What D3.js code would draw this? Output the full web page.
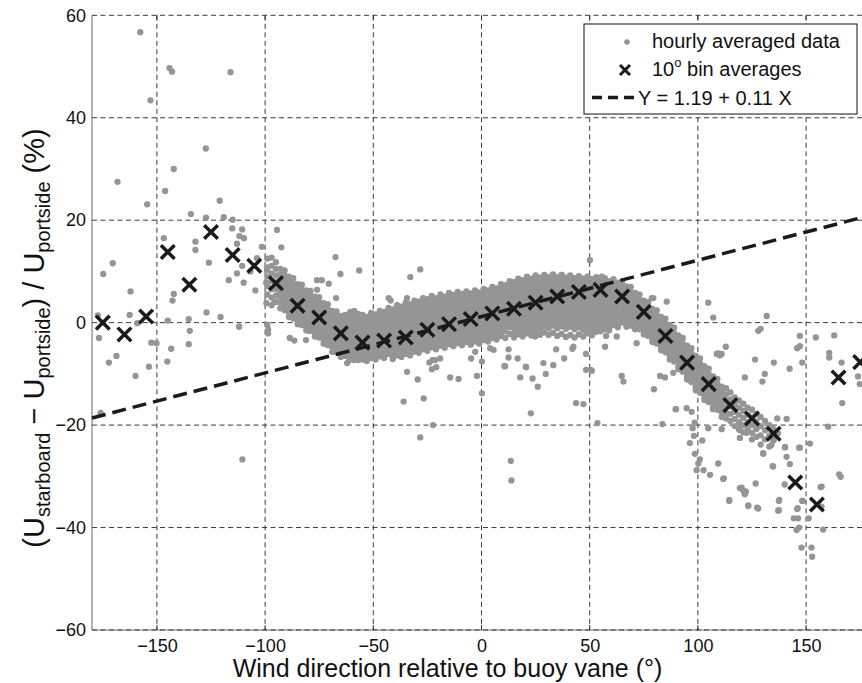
<!DOCTYPE html>
<html><head><meta charset="utf-8">
<script src="https://cdn.jsdelivr.net/npm/d3@7"></script>
<style>
body{margin:0;background:#fff}
svg{display:block}
text{font-family:"Liberation Sans",Arial,Helvetica,sans-serif;fill:#111}
</style></head>
<body><svg id="chart" width="862" height="683"></svg>
<script>
// ---------------- data ----------------
const xTicks = [-150, -100, -50, 0, 50, 100, 150];
const yTicks = [-60, -40, -20, 0, 20, 40, 60];
const fitIntercept = 1.19;
const fitSlope = 0.11;

const binCenters = [-175,-165,-155,-145,-135,-125,-115,-105,-95,-85,-75,-65,-55,-45,-35,-25,-15,-5,5,15,25,35,45,55,65,75,85,95,105,115,125,135,145,155,165,175];
const binAverages = [0.0,-2.3,1.2,13.8,7.4,17.7,13.2,11.1,7.7,3.3,1.0,-2.1,-3.9,-3.5,-2.9,-1.4,-0.3,0.7,1.8,2.7,3.9,5.1,6.0,6.4,5.1,2.1,-2.6,-7.8,-12.0,-16.1,-18.7,-21.7,-31.2,-35.5,-10.7,-7.7];

// dense core of hourly data: [direction, [ratios...]]
const hourlyCore = [
[-99,[12.5,10.8,9.0,7.2,5.5]],
[-97,[12.7,11.1,9.6,8.1,6.5,4.9,3.4]],
[-95,[11.8,10.5,9.2,7.9,6.6,5.3,4.0]],
[-93,[10.5,9.4,8.3,7.2,6.1,5.0,3.9,2.8]],
[-91,[10.2,9.2,8.2,7.2,6.2,5.2,4.2,3.2,2.4]],
[-89,[9.0,8.0,7.0,6.0,5.0,4.0,3.0,2.0,1.1]],
[-87,[8.7,7.7,6.7,5.7,4.7,3.7,2.7,1.7,0.8]],
[-85,[7.5,6.5,5.5,4.5,3.5,2.5,1.5,0.5,-0.3]],
[-83,[7.4,6.4,5.4,4.4,3.4,2.4,1.4,0.4,-0.5]],
[-81,[6.3,5.3,4.3,3.3,2.3,1.3,0.3,-0.7,-1.5]],
[-79,[6.2,5.2,4.2,3.2,2.2,1.2,0.2,-0.8,-1.6]],
[-77,[5.1,4.1,3.1,2.1,1.1,0.1,-0.9,-1.9,-2.7]],
[-75,[5.0,4.0,3.0,2.0,1.0,0.0,-1.0,-2.0,-2.9]],
[-73,[3.8,2.8,1.8,0.8,-0.2,-1.2,-2.2,-3.2,-4.1]],
[-71,[3.6,2.6,1.6,0.6,-0.4,-1.4,-2.4,-3.4,-4.4]],
[-69,[2.3,1.3,0.3,-0.7,-1.7,-2.7,-3.7,-4.7,-5.7]],
[-67,[2.2,1.2,0.2,-0.8,-1.8,-2.8,-3.8,-4.8,-5.8]],
[-65,[1.3,0.3,-0.7,-1.7,-2.7,-3.7,-4.7,-5.7,-6.7]],
[-63,[1.5,0.5,-0.5,-1.5,-2.5,-3.5,-4.5,-5.5,-6.5]],
[-61,[1.7,0.7,-0.3,-1.3,-2.3,-3.3,-4.3,-5.3,-6.3,-7.3]],
[-59,[1.4,0.4,-0.6,-1.6,-2.6,-3.6,-4.6,-5.6,-6.6,-7.3]],
[-57,[1.7,0.7,-0.3,-1.3,-2.3,-3.3,-4.3,-5.3,-6.3,-7.3]],
[-55,[1.5,0.5,-0.5,-1.5,-2.5,-3.5,-4.5,-5.5,-6.5,-7.2]],
[-53,[1.1,0.1,-0.9,-1.9,-2.9,-3.9,-4.9,-5.9,-6.9,-7.5]],
[-51,[1.9,0.9,-0.1,-1.1,-2.1,-3.1,-4.1,-5.1,-6.1,-6.9]],
[-49,[1.6,0.6,-0.4,-1.4,-2.4,-3.4,-4.4,-5.4,-6.4,-7.2]],
[-47,[2.3,1.3,0.3,-0.7,-1.7,-2.7,-3.7,-4.7,-5.7,-6.6]],
[-45,[2.1,1.1,0.1,-0.9,-1.9,-2.9,-3.9,-4.9,-5.9,-6.9]],
[-43,[2.9,1.9,0.9,-0.1,-1.1,-2.1,-3.1,-4.1,-5.1,-6.1]],
[-41,[2.6,1.6,0.6,-0.4,-1.4,-2.4,-3.4,-4.4,-5.4,-6.4,-7.1]],
[-39,[3.4,2.4,1.4,0.4,-0.6,-1.6,-2.6,-3.6,-4.6,-5.6,-6.4]],
[-37,[3.1,2.1,1.1,0.1,-0.9,-1.9,-2.9,-3.9,-4.9,-5.9,-6.7]],
[-35,[3.9,2.9,1.9,0.9,-0.1,-1.1,-2.1,-3.1,-4.1,-5.1,-6.1]],
[-33,[3.6,2.6,1.6,0.6,-0.4,-1.4,-2.4,-3.4,-4.4,-5.4,-6.4]],
[-31,[4.3,3.3,2.3,1.3,0.3,-0.7,-1.7,-2.7,-3.7,-4.7,-5.7]],
[-29,[4.1,3.1,2.1,1.1,0.1,-0.9,-1.9,-2.9,-3.9,-4.9,-5.9]],
[-27,[4.8,3.8,2.8,1.8,0.8,-0.2,-1.2,-2.2,-3.2,-4.2,-5.2]],
[-25,[4.5,3.5,2.5,1.5,0.5,-0.5,-1.5,-2.5,-3.5,-4.5,-5.5]],
[-23,[5.2,4.2,3.2,2.2,1.2,0.2,-0.8,-1.8,-2.8,-3.8,-4.8]],
[-21,[4.8,3.8,2.8,1.8,0.8,-0.2,-1.2,-2.2,-3.2,-4.2,-5.2]],
[-19,[5.5,4.5,3.5,2.5,1.5,0.5,-0.5,-1.5,-2.5,-3.5,-4.5]],
[-17,[5.1,4.1,3.1,2.1,1.1,0.1,-0.9,-1.9,-2.9,-3.9,-4.9]],
[-15,[5.8,4.8,3.8,2.8,1.8,0.8,-0.2,-1.2,-2.2,-3.2,-4.2]],
[-13,[5.4,4.4,3.4,2.4,1.4,0.4,-0.6,-1.6,-2.6,-3.6,-4.6]],
[-11,[6.0,5.0,4.0,3.0,2.0,1.0,0.0,-1.0,-2.0,-3.0,-4.0]],
[-9,[5.6,4.6,3.6,2.6,1.6,0.6,-0.4,-1.4,-2.4,-3.4,-4.4]],
[-7,[6.1,5.1,4.1,3.1,2.1,1.1,0.1,-0.9,-1.9,-2.9,-3.8]],
[-5,[5.7,4.7,3.7,2.7,1.7,0.7,-0.3,-1.3,-2.3,-3.3,-4.3]],
[-3,[6.3,5.3,4.3,3.3,2.3,1.3,0.3,-0.7,-1.7,-2.7,-3.7]],
[-1,[5.9,4.9,3.9,2.9,1.9,0.9,-0.1,-1.1,-2.1,-3.1,-4.1]],
[1,[6.6,5.6,4.6,3.6,2.6,1.6,0.6,-0.4,-1.4,-2.4,-3.4]],
[3,[6.3,5.3,4.3,3.3,2.3,1.3,0.3,-0.7,-1.7,-2.7,-3.7]],
[5,[7.0,6.0,5.0,4.0,3.0,2.0,1.0,0.0,-1.0,-2.0,-3.0]],
[7,[6.7,5.7,4.7,3.7,2.7,1.7,0.7,-0.3,-1.3,-2.3,-3.3]],
[9,[7.5,6.5,5.5,4.5,3.5,2.5,1.5,0.5,-0.5,-1.5,-2.6]],
[11,[7.3,6.3,5.3,4.3,3.3,2.3,1.3,0.3,-0.7,-1.7,-3.0]],
[13,[8.1,7.1,6.1,5.1,4.1,3.1,2.1,1.1,0.1,-0.9,-2.2]],
[15,[7.9,6.9,5.9,4.9,3.9,2.9,1.9,0.9,-0.1,-1.1,-2.1,-2.9]],
[17,[8.6,7.6,6.6,5.6,4.6,3.6,2.6,1.6,0.6,-0.4,-1.4,-2.3]],
[19,[8.3,7.3,6.3,5.3,4.3,3.3,2.3,1.3,0.3,-0.7,-1.7,-2.7]],
[21,[9.0,8.0,7.0,6.0,5.0,4.0,3.0,2.0,1.0,0.0,-1.0,-2.1]],
[23,[8.6,7.6,6.6,5.6,4.6,3.6,2.6,1.6,0.6,-0.4,-1.4,-2.5]],
[25,[9.2,8.2,7.2,6.2,5.2,4.2,3.2,2.2,1.2,0.2,-0.8,-1.9]],
[27,[8.8,7.8,6.8,5.8,4.8,3.8,2.8,1.8,0.8,-0.2,-1.2,-2.4]],
[29,[9.3,8.3,7.3,6.3,5.3,4.3,3.3,2.3,1.3,0.3,-0.7,-1.9]],
[31,[8.9,7.9,6.9,5.9,4.9,3.9,2.9,1.9,0.9,-0.1,-1.1,-2.4]],
[33,[9.4,8.4,7.4,6.4,5.4,4.4,3.4,2.4,1.4,0.4,-0.6,-2.0]],
[35,[8.9,7.9,6.9,5.9,4.9,3.9,2.9,1.9,0.9,-0.1,-1.1,-2.6]],
[37,[9.3,8.3,7.3,6.3,5.3,4.3,3.3,2.3,1.3,0.3,-0.7,-2.2]],
[39,[8.8,7.8,6.8,5.8,4.8,3.8,2.8,1.8,0.8,-0.2,-1.2,-2.8]],
[41,[9.2,8.2,7.2,6.2,5.2,4.2,3.2,2.2,1.2,0.2,-0.8,-2.4]],
[43,[8.7,7.7,6.7,5.7,4.7,3.7,2.7,1.7,0.7,-0.3,-1.3,-2.9]],
[45,[9.1,8.1,7.1,6.1,5.1,4.1,3.1,2.1,1.1,0.1,-0.9,-2.3]],
[47,[8.6,7.6,6.6,5.6,4.6,3.6,2.6,1.6,0.6,-0.4,-1.4,-2.7]],
[49,[9.0,8.0,7.0,6.0,5.0,4.0,3.0,2.0,1.0,0.0,-1.0,-2.1]],
[51,[8.5,7.5,6.5,5.5,4.5,3.5,2.5,1.5,0.5,-0.5,-1.5,-2.5]],
[53,[8.9,7.9,6.9,5.9,4.9,3.9,2.9,1.9,0.9,-0.1,-1.1,-1.8]],
[55,[8.3,7.3,6.3,5.3,4.3,3.3,2.3,1.3,0.3,-0.7,-1.7]],
[57,[8.7,7.7,6.7,5.7,4.7,3.7,2.7,1.7,0.7,-0.3,-1.3]],
[59,[8.1,7.1,6.1,5.1,4.1,3.1,2.1,1.1,0.1,-0.9,-1.5]],
[61,[8.5,7.5,6.5,5.5,4.5,3.5,2.5,1.5,0.5,-0.5]],
[63,[7.8,6.8,5.8,4.8,3.8,2.8,1.8,0.8,-0.2,-0.9]],
[65,[8.0,7.0,6.0,5.0,4.0,3.0,2.0,1.0,0.0]],
[67,[7.1,6.1,5.1,4.1,3.1,2.1,1.1,0.1,-0.8]],
[69,[7.0,6.0,5.0,4.0,3.0,2.0,1.0,0.0,-0.6]],
[71,[5.8,4.8,3.8,2.8,1.8,0.8,-0.2,-1.3]],
[73,[5.5,4.5,3.5,2.5,1.5,0.5,-0.5,-1.3]],
[75,[4.3,3.3,2.3,1.3,0.3,-0.7,-1.7,-2.3]],
[77,[4.0,3.0,2.0,1.0,0.0,-1.0,-2.0,-2.6]],
[79,[2.7,1.7,0.7,-0.3,-1.3,-2.3,-3.3,-3.8]],
[81,[2.4,1.4,0.4,-0.6,-1.6,-2.6,-3.6,-4.1]],
[83,[1.1,0.1,-0.9,-1.9,-2.9,-3.9,-4.9,-5.4]],
[85,[0.8,-0.2,-1.2,-2.2,-3.2,-4.2,-5.2,-5.8]],
[87,[-0.5,-1.5,-2.5,-3.5,-4.5,-5.5,-6.5,-7.2]],
[89,[-1.0,-2.0,-3.0,-4.0,-5.0,-6.0,-7.0,-7.6]],
[91,[-2.5,-3.5,-4.5,-5.5,-6.5,-7.5,-8.5,-9.1]],
[93,[-3.0,-4.0,-5.0,-6.0,-7.0,-8.0,-9.0,-9.6]],
[95,[-4.5,-5.5,-6.5,-7.5,-8.5,-9.5,-10.5,-11.1]],
[97,[-5.0,-6.0,-7.0,-8.0,-9.0,-10.0,-11.0,-11.6]],
[99,[-6.5,-7.5,-8.5,-9.5,-10.5,-11.5,-12.5,-13.2]],
[101,[-7.0,-8.0,-9.0,-10.0,-11.0,-12.0,-13.0,-13.7]],
[103,[-8.5,-9.5,-10.5,-11.5,-12.5,-13.5,-14.5,-15.1]],
[105,[-9.0,-10.0,-11.0,-12.0,-13.0,-14.0,-15.0,-15.5]],
[107,[-10.5,-11.5,-12.5,-13.5,-14.5,-15.5,-16.5,-16.9]],
[109,[-11.0,-12.0,-13.0,-14.0,-15.0,-16.0,-17.0]],
[111,[-12.5,-13.5,-14.5,-15.5,-16.5,-17.5,-18.4]],
[113,[-12.8,-14.0,-15.2,-16.4,-17.6,-18.7]],
[115,[-13.6,-15.0,-16.4,-17.8,-19.2]],
[117,[-14.6,-16.0,-17.4,-18.8,-20.2]],
[119,[-15.2,-16.6,-18.0,-19.4,-20.8]],
[121,[-15.8,-17.2,-18.6,-20.0,-21.4]],
[123,[-16.6,-18.0,-19.4,-20.8]],
[125,[-17.0,-18.5,-20.0,-21.5,-22.8]],
[127,[-17.8,-19.3,-20.8,-22.3]],
[129,[-18.4,-20.2,-22.0,-23.8]],
[131,[-19.2,-21.0,-22.8]],
[133,[-20.0,-22.0,-24.2]],
[135,[-20.8,-23.0]],
[137,[-21.6]]
];

// scattered hourly data away from the core
const hourlyLeft = [
[-157.7,56.7],[-153,43.4],[-144.2,49.7],[-143,49.0],[-116,48.9],[-127.4,34.0],[-142.2,30.0],[-168.2,27.5],[-146.2,25.7],[-121,23.8],
[-154.5,23.1],[-134.3,21.2],[-127.3,20.5],[-119.1,20.6],[-115,20.1],[-115.2,18.4],[-110.6,18.2],[-111.9,16.9],[-109.8,16.5],[-146.8,16.5],
[-132.2,15.8],[-132.2,14.2],[-113,15.4],[-170.4,11.6],[-174.8,9.5],[-126,11.7],[-110.6,11.1],[-106.8,10.0],[-113,9.6],[-116.8,8.3],
[-109.9,7.8],[-104.5,6.3],[-162.2,6.1],[-142.2,5.6],[-142.8,4.3],[-162.6,1.5],[-177.3,1.4],[-145,0.4],[-135.3,0.7],[-127.1,2.0],
[-120.6,1.1],[-112,-0.8],[-176.8,-3.0],[-159.1,-0.1],[-152.6,-3.9],[-150.2,-4.0],[-134.8,-1.6],[-135.3,-4.2],[-143.4,-5.1],[-172.2,-7.8],
[-168.7,-6.5],[-159.9,-10.4],[-153.7,-8.6],[-145.2,-7.6],[-176,-17.6],[-110.5,-26.7],[-103.8,12.6],[-101.5,14.8]
];
const hourlyMiddle = [
[-94.5,18.1],[-92.5,14.7],[-99.1,10.3],[-99.5,7.8],[-99.4,3.8],[-95.6,4.1],[-98.6,-1.3],[-98.6,-2.1],[-99,-0.4],[-88.6,-3.0],
[-86.5,-3.5],[-81.1,-3.4],[-79.9,-1.6],[-83.4,-0.1],[-67.5,12.8],[-65.2,9.5],[-56.5,10.2],[-76,8.3],[-70.6,7.6],[-67.2,4.8],
[-58.8,2.3],[-73.8,8.3],[-76,6.4],[-60.6,2.1],[-62.1,-7.9],[-56,-6.2],
[-28.3,10.4],[-32.9,8.9],[-42.9,4.8],[-42,4.3],[-34.4,4.8],[-24.5,4.6],[-36,-15.4],[-34.4,-9.6],[-29.5,-11.1],[-28.3,-22.4],
[-26.7,-14.8],[-22.4,-20],[-24.1,-7.8],[-22.6,-7.3],[-22.9,-9.1],[-20.9,-8.7],[-19.1,-7.0],[-14.5,-10.7],[-10.6,-11.0],[-4.8,-7.0],
[-2.1,-10.4],[0.2,-13.8],[0.2,-7.6],[-2.9,-5.7],[-49.8,-6.4],[-48.3,-6.5],[-2.9,5.4],[-21.4,-7.3],
[10.6,-8.5],[12.5,-6.8],[17.9,-10.7],[4,-5],[5.6,-5.3],[12.5,-5.2],[16.7,-7],[10.9,-8.5],[23.6,-10.9],[20.6,-8.7],
[26,-12.5],[29.7,-10],[28.6,-7.9],[33.2,-8.3],[38.2,-7],[42,-5.1],[42.5,-4.7],[48.3,-6.1],[51,-9.4],[57.1,-4.7],
[62.5,-2.7],[64.8,-10.4],[65.6,-11.5],[71.7,-4],[79.7,-13],[84.8,-10.7],[88.6,-9.8],[22.8,-17.7],[43.7,-15.7],[47.1,-15.9],
[53.6,-19.6],[83.6,-19.8],[89.7,-16.9],[97.1,-17.4],[20.5,-8.6],[34.5,-5.2],[48.3,-9.2],[50.5,-9.2],[57.6,-2.6],[24.8,-2.7],
[13.5,-27],[13.8,-30.8],[82.5,-10.4],[94.8,-16.7],[97.6,-20.6],[98.2,-22.1],
[50.1,12.2],[33.2,9.0],[37.1,9.3],[55.6,9.0],[85.6,4.1],[78.7,4.8],[79.4,4.8],[104.8,3.9],[107.1,1.0]
];
const hourlyRight = [
[131.8,1.3],[127.9,-1.6],[129,-1.2],[147.1,-2.6],[154.5,-2.9],[163,-2.5],[145.9,-5],[147.1,-4.6],[160.7,-5.9],[160.7,-6.8],
[166.4,-7.8],[174,-10.5],[174.8,-12],[166.7,-15.7],[126.4,-7.2],[135.1,-7.8],[130.9,-10],[129.8,-11.5],[142.4,-9],[148.2,-7.8],
[121.7,-10.7],[112.9,-4.7],[108.7,-6.1],[110.2,-6.4],[109.4,-6],[111,-6.1],[160.2,-20.3],[151.8,-23.6],[147.1,-24.4],[141,-26.2],
[141,-18.8],[136.7,-18.7],[140.2,-24.3],[134.8,-28.1],[130.2,-25.6],[126.7,-31.4],[120.2,-32.2],[122.2,-33],[123.3,-35.7],[127.4,-36.1],
[114.5,-34.6],[109.4,-27.5],[112,-30.4],[98.6,-25.6],[100.9,-26.7],[102.6,-28.8],[105.6,-29.7],[100.2,-27.5],[99.4,-28.8],[89.9,-16.9],
[104.8,-20.6],[111,-20.8],[119.4,-21],[122.5,-21.5],[119.4,-22.5],[137.1,-36.7],[137.6,-34.6],[145.9,-36.4],[148.4,-34.8],[144.3,-38.2],
[146.3,-38.2],[145.6,-40.5],[146.8,-40],[147.9,-43.9],[152.5,-43.9],[157.2,-32],[157.9,-40.4],[165.3,-29.6],[166,-30.1],[152.8,-45.7],
[151.2,-38.2],[148.2,-34.8],[146.1,-36.2],[156.7,-32.1],[157.1,-35.9],[140.3,-24.3],[142.5,-27.6],[134.5,-28],[140.1,-31.6],[119.4,-32.3],
[121,-32.8],[121.7,-33.5],[111.7,-30.5],[114.5,-34.8],[123.3,-35.8],[127.9,-36.3],[137.4,-34.8],[137.4,-36.6],[130.2,-25.5],[146.8,-24.4],
[134.8,-22.9],[134,-23.9],[96.3,-23.5],[102,-23],[98.5,-19.5]
];

const legendLabels = ["hourly averaged data", "bin averages", "Y = 1.19 + 0.11 X"];

// ---------------- drawing ----------------
const svg = d3.select("#chart");
const x = d3.scaleLinear().domain([-180, 180]).range([92, 871]);
const y = d3.scaleLinear().domain([-60, 60]).range([630, 15.3]);

const hourly = [];
hourlyCore.forEach(([dx, ys]) => ys.forEach(v => hourly.push([dx, v])));
hourlyLeft.concat(hourlyMiddle, hourlyRight).forEach(p => hourly.push(p));

// frame lines
svg.append("line").attr("x1", x(-180)).attr("x2", x(-180)).attr("y1", y(60)).attr("y2", y(-60))
  .attr("stroke", "#8a8a8a").attr("stroke-width", 1.3);
svg.append("line").attr("x1", x(-180)).attr("x2", 862).attr("y1", y(-60)).attr("y2", y(-60))
  .attr("stroke", "#a0a0a0").attr("stroke-width", 1.3);

// grid
const grid = svg.append("g").attr("stroke", "#3a3a3a").attr("stroke-width", 1).attr("stroke-dasharray", "5,3.5");
grid.selectAll(".gx").data(xTicks).join("line")
  .attr("x1", d => x(d)).attr("x2", d => x(d)).attr("y1", y(60)).attr("y2", y(-60));
grid.selectAll(".gy").data(yTicks).join("line")
  .attr("x1", x(-180)).attr("x2", 862).attr("y1", d => y(d)).attr("y2", d => y(d));

// inward ticks top & bottom
const tk = svg.append("g").attr("stroke", "#333").attr("stroke-width", 1);
xTicks.forEach(t => {
  tk.append("line").attr("x1", x(t)).attr("x2", x(t)).attr("y1", y(60)).attr("y2", y(60) + 5);
  tk.append("line").attr("x1", x(t)).attr("x2", x(t)).attr("y1", y(-60)).attr("y2", y(-60) - 5);
});

// axes labels via d3 axes
const ax = svg.append("g").attr("transform", `translate(0,${y(-60)})`)
  .call(d3.axisBottom(x).tickValues(xTicks).tickSize(0).tickPadding(9).tickFormat(d3.format("d")));
ax.select(".domain").remove();
ax.attr("font-size", 18).attr("font-family", "Liberation Sans, Arial, sans-serif");
ax.selectAll("text").attr("fill", "#111");

const ay = svg.append("g").attr("transform", `translate(${x(-180)},0)`)
  .call(d3.axisLeft(y).tickValues(yTicks).tickSize(0).tickPadding(6).tickFormat(d3.format("d")));
ay.select(".domain").remove();
ay.attr("font-size", 18).attr("font-family", "Liberation Sans, Arial, sans-serif");
ay.selectAll("text").attr("fill", "#111");

// scatter
svg.append("g").selectAll("circle").data(hourly).join("circle")
  .attr("cx", d => x(d[0])).attr("cy", d => y(d[1])).attr("r", 3.15).attr("fill", "#959595");

// fit line
svg.append("line")
  .attr("x1", x(-180)).attr("y1", y(fitIntercept + fitSlope * -180))
  .attr("x2", x(180)).attr("y2", y(fitIntercept + fitSlope * 180))
  .attr("stroke", "#1a1a1a").attr("stroke-width", 3.5).attr("stroke-dasharray", "14,7");

// bin averages crosses
const cross = s => `M${-s},${-s}L${s},${s}M${-s},${s}L${s},${-s}`;
svg.append("g").selectAll("path").data(binCenters).join("path")
  .attr("transform", (d, i) => `translate(${x(d)},${y(binAverages[i])})`)
  .attr("d", cross(6.8)).attr("stroke", "#1a1a1a").attr("stroke-width", 3.5).attr("fill", "none");

// axis titles
svg.append("text").attr("x", 447.5).attr("y", 677).attr("text-anchor", "middle")
  .attr("font-size", 25).text("Wind direction relative to buoy vane (°)");

const yl = svg.append("text").attr("transform", "translate(44,338) rotate(-90)")
  .attr("text-anchor", "middle").attr("font-size", 29);
yl.append("tspan").text("(U");
yl.append("tspan").attr("font-size", 20).attr("dy", 6).text("starboard");
yl.append("tspan").attr("dy", -6).text(" − U");
yl.append("tspan").attr("font-size", 20).attr("dy", 6).text("portside");
yl.append("tspan").attr("dy", -6).text(") / U");
yl.append("tspan").attr("font-size", 20).attr("dy", 6).text("portside");
yl.append("tspan").attr("dy", -6).text(" (%)");

// legend
const lg = svg.append("g");
lg.append("rect").attr("x", 584).attr("y", 24).attr("width", 273).attr("height", 90)
  .attr("fill", "#fff").attr("stroke", "#111").attr("stroke-width", 1);
lg.append("circle").attr("cx", 627).attr("cy", 42).attr("r", 2.8).attr("fill", "#959595");
lg.append("text").attr("x", 652).attr("y", 48).attr("font-size", 20).text(legendLabels[0]);
lg.append("path").attr("transform", "translate(625,70)").attr("d", cross(5))
  .attr("stroke", "#1a1a1a").attr("stroke-width", 3).attr("fill", "none");
const t2 = lg.append("text").attr("x", 652).attr("y", 76).attr("font-size", 20);
t2.append("tspan").text("10");
t2.append("tspan").attr("font-size", 13).attr("dy", -9).text("o");
t2.append("tspan").attr("dy", 9).text(" " + legendLabels[1]);
lg.append("line").attr("x1", 592).attr("x2", 636).attr("y1", 97.5).attr("y2", 97.5)
  .attr("stroke", "#1a1a1a").attr("stroke-width", 3.5).attr("stroke-dasharray", "10,6");
lg.append("text").attr("x", 638).attr("y", 105).attr("font-size", 20).text(legendLabels[2]);
</script></body></html>
